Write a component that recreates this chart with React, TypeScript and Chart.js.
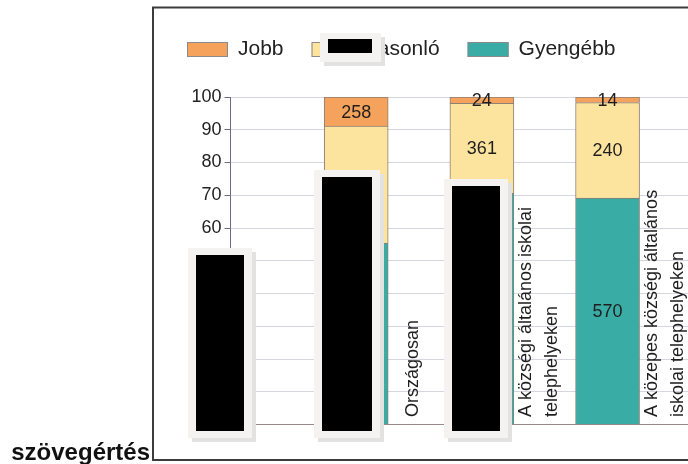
import React, { useEffect, useRef } from "react";
import { Chart, registerables } from "chart.js";

Chart.register(...registerables);

// ---- data ----
const categories: string[][] = [
  ["Országosan"],
  ["A községi általános iskolai", "telephelyeken"],
  ["A közepes községi általános", "iskolai telephelyeken"],
];
const categoryPositions = [1, 2, 3];
const seriesNames = ["Jobb", "Hasonló", "Gyengébb"];
const jobbPct = [8.9, 1.9, 1.7];
const hasonloPct = [35.7, 27.5, 29.2];
const gyengebbPct = [55.4, 70.6, 69.1];
const jobbLabels = ["258", "24", "14"];
const hasonloLabels = ["1035", "361", "240"];
const gyengebbLabels = ["1607", "925", "570"];
const yMin = 0;
const yMax = 100;
const yStep = 10;
const sideText = "szövegértés";

// ---- style ----
const FONT = "'Liberation Sans', Arial, Helvetica, sans-serif";
const colJobb = "#f5a35c";
const colHasonlo = "#fde49e";
const colGyengebb = "#3aaca6";
const segBorder = "#8c7f74";

// redaction boxes present in the reference picture: [outerX, outerY, outerX2, outerY2, innerX, innerY, innerX2, innerY2]
const redactions: number[][] = [
  [188, 248, 252, 438, 196, 255, 244, 431],
  [314, 170, 380, 438, 322, 177, 372, 431],
  [444, 179, 508, 438, 452, 186, 500, 431],
  [320, 33, 381, 62, 328, 39, 372, 53],
];

const mk = (vals: number[]) => vals.map((v, i) => ({ x: categoryPositions[i], y: v }));

const customPlugin = {
  id: "customDraw",
  afterDatasetsDraw(chart: any) {
    const ctx = chart.ctx as CanvasRenderingContext2D;
    const labelSets = [gyengebbLabels, hasonloLabels, jobbLabels];
    ctx.save();
    ctx.fillStyle = "#1e1e1e";
    ctx.font = `18px ${FONT}`;
    ctx.textAlign = "center";
    ctx.textBaseline = "middle";
    chart.data.datasets.forEach((_: any, di: number) => {
      const meta = chart.getDatasetMeta(di);
      meta.data.forEach((el: any, j: number) => {
        const p = el.getProps(["x", "y", "base"], true);
        ctx.fillText(labelSets[di][j], p.x, (p.y + p.base) / 2 + 1);
      });
    });
    // category labels, rotated, to the right of each bar
    const meta0 = chart.getDatasetMeta(0);
    const bottom = chart.chartArea.bottom - 7.5;
    ctx.font = `18px ${FONT}`;
    ctx.textAlign = "left";
    ctx.textBaseline = "middle";
    meta0.data.forEach((el: any, j: number) => {
      const p = el.getProps(["x", "width"], true);
      const cx = p.x + p.width / 2 + 25;
      const lines = categories[j];
      lines.forEach((line, k) => {
        const lx = cx + (k - (lines.length - 1) / 2) * 26;
        ctx.save();
        ctx.translate(lx, bottom);
        ctx.rotate(-Math.PI / 2);
        ctx.fillText(line, 0, 0);
        ctx.restore();
      });
    });
    ctx.restore();
  },
  afterDraw(chart: any) {
    const ctx = chart.ctx as CanvasRenderingContext2D;
    ctx.save();
    // frame
    ctx.strokeStyle = "#3c3c3c";
    ctx.lineWidth = 2;
    ctx.beginPath();
    ctx.moveTo(700, 7.5);
    ctx.lineTo(153, 7.5);
    ctx.lineTo(153, 460);
    ctx.lineTo(700, 460);
    ctx.stroke();
    // side text
    ctx.fillStyle = "#111";
    ctx.font = `bold 24px ${FONT}`;
    ctx.textAlign = "right";
    ctx.textBaseline = "alphabetic";
    ctx.fillText(sideText, 150, 460);
    // legend
    const order = [2, 1, 0];
    let x = 187;
    const cy = 49.5;
    ctx.font = `21px ${FONT}`;
    ctx.textAlign = "left";
    ctx.textBaseline = "middle";
    order.forEach((di) => {
      const ds = chart.data.datasets[di];
      ctx.fillStyle = ds.backgroundColor;
      ctx.fillRect(x, cy - 7.5, 41, 15);
      ctx.strokeStyle = "#8a8a8a";
      ctx.lineWidth = 1;
      ctx.strokeRect(x + 0.5, cy - 7, 40, 14);
      ctx.fillStyle = "#222";
      ctx.fillText(ds.label, x + 51, cy);
      x += 51 + ctx.measureText(ds.label).width + 28;
    });
    // redaction boxes
    redactions.forEach((r) => {
      const [ox, oy, ox2, oy2, ix, iy, ix2, iy2] = r;
      ctx.fillStyle = "#e4e2e0";
      ctx.fillRect(ox + 4, oy + 4, ox2 - ox, oy2 - oy);
      ctx.fillStyle = "#f4f3f1";
      ctx.fillRect(ox, oy, ox2 - ox, oy2 - oy);
      ctx.fillStyle = "#000";
      ctx.fillRect(ix, iy, ix2 - ix, iy2 - iy);
    });
    ctx.restore();
  },
};

export default function App() {
  const ref = useRef<HTMLCanvasElement>(null);
  useEffect(() => {
    if (!ref.current) return;
    const chart = new Chart(ref.current, {
      type: "bar",
      data: {
        datasets: [
          { label: seriesNames[2], data: mk(gyengebbPct) as any, backgroundColor: colGyengebb, borderColor: segBorder, borderWidth: 1 },
          { label: seriesNames[1], data: mk(hasonloPct) as any, backgroundColor: colHasonlo, borderColor: segBorder, borderWidth: 1 },
          { label: seriesNames[0], data: mk(jobbPct) as any, backgroundColor: colJobb, borderColor: segBorder, borderWidth: 1 },
        ],
      },
      options: {
        animation: false,
        responsive: false,
        devicePixelRatio: 1,
        layout: { padding: { left: 180, right: 0, top: 97, bottom: 39.5 } },
        datasets: { bar: { barThickness: 64 } },
        plugins: { legend: { display: false }, tooltip: { enabled: false }, title: { display: false } },
        scales: {
          x: { type: "linear", display: false, offset: false, min: 0, max: 3.64, stacked: true },
          y: {
            stacked: true,
            min: yMin,
            max: yMax,
            ticks: { stepSize: yStep, color: "#222", font: { family: FONT, size: 18 }, padding: 3 },
            grid: {
              color: (c: any) => (c.tick && c.tick.value === 0 ? "#9c8a8a" : "#d6d6e0"),
              tickColor: "#6b6b8a",
              tickLength: 6,
              lineWidth: 1,
            },
            border: { color: "#6b6b8a", width: 1 },
            afterFit: (scale: any) => {
              scale.width = 50.5;
            },
          },
        },
      } as any,
      plugins: [customPlugin],
    });
    return () => chart.destroy();
  }, []);
  return (
    <div style={{ position: "fixed", left: 0, top: 0, width: 688, height: 464, background: "#fff", overflow: "hidden" }}>
      <canvas ref={ref} width={688} height={464} style={{ display: "block" }} />
    </div>
  );
}
